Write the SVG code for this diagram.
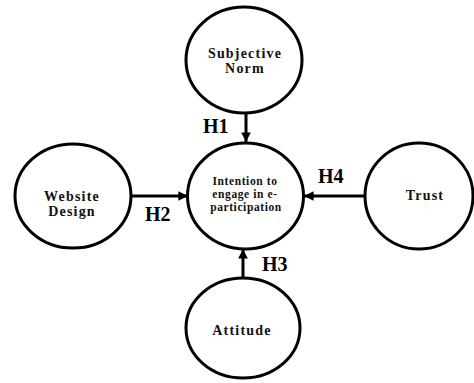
<svg xmlns="http://www.w3.org/2000/svg" width="474" height="383" viewBox="0 0 474 383">
<defs>
<style>
.node ellipse{fill:#fff;stroke:#000;stroke-width:3}
.lbl{font-family:"Liberation Serif","Times New Roman",serif;font-weight:bold;fill:#111;text-anchor:middle}
.big{font-size:14px;letter-spacing:1.2px}
.small{font-size:11.5px;letter-spacing:0.6px}
.h{font-family:"Liberation Serif","Times New Roman",serif;font-weight:bold;font-size:20px;fill:#000}
.conn line{stroke:#000;stroke-width:3}
</style>
<marker id="ah" viewBox="0 0 10 10" refX="10" refY="5" markerWidth="3.2" markerHeight="3.2" orient="auto" markerUnits="strokeWidth">
<path d="M0,0 L10,5 L0,10 z" fill="#000"/>
</marker>
</defs>
<rect width="474" height="383" fill="#fff"/>
<g id="connectors" class="conn">
<line x1="246" y1="113" x2="246" y2="142" marker-end="url(#ah)"/>
<line x1="131" y1="196" x2="188" y2="196" marker-end="url(#ah)"/>
<line x1="243" y1="278" x2="243" y2="249" marker-end="url(#ah)"/>
<line x1="365" y1="196" x2="304" y2="196" marker-end="url(#ah)"/>
</g>
<g id="subjective-norm" class="node">
<ellipse cx="244" cy="60" rx="58" ry="53"/>
<text class="lbl big" x="245" y="58">Subjective</text>
<text class="lbl big" x="245" y="73">Norm</text>
</g>
<g id="intention" class="node">
<ellipse cx="245.5" cy="196" rx="58" ry="53"/>
<text class="lbl small" x="245" y="185">Intention to</text>
<text class="lbl small" x="245" y="198">engage in e-</text>
<text class="lbl small" x="246" y="211">participation</text>
</g>
<g id="website-design" class="node">
<ellipse cx="73" cy="196" rx="58" ry="52"/>
<text class="lbl big" x="72" y="201">Website</text>
<text class="lbl big" x="72" y="216">Design</text>
</g>
<g id="trust" class="node">
<ellipse cx="419" cy="196" rx="54" ry="53"/>
<text class="lbl big" x="425" y="200">Trust</text>
</g>
<g id="attitude" class="node">
<ellipse cx="243" cy="328" rx="57" ry="50"/>
<text class="lbl big" x="242" y="335">Attitude</text>
</g>
<g id="labels">
<text class="h" x="203" y="133">H1</text>
<text class="h" x="145" y="221">H2</text>
<text class="h" x="262" y="271">H3</text>
<text class="h" x="318" y="183">H4</text>
</g>
</svg>
